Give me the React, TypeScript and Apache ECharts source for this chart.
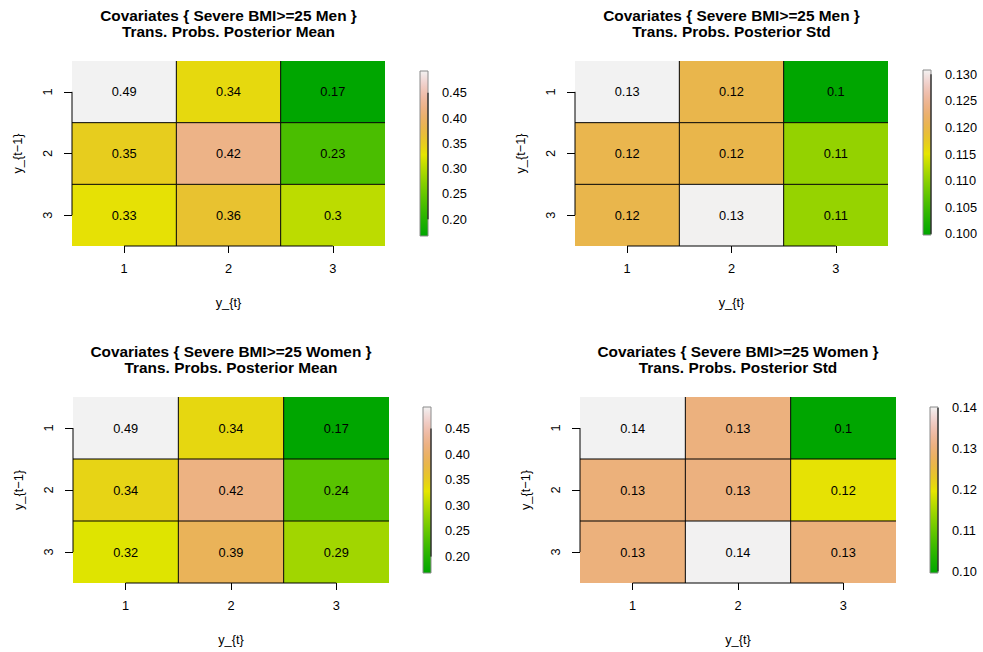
import React, { useEffect, useRef } from "react";
import * as echarts from "echarts";

// Transition matrix categories (columns: y_{t}, rows: y_{t-1})
const xCategories = ["1", "2", "3"];
const yCategories = ["1", "2", "3"];

// Posterior means / stds of transition probabilities, rows = y_{t-1}
const menMean = [
  [0.493, 0.338, 0.167],
  [0.349, 0.422, 0.229],
  [0.331, 0.362, 0.304],
];
const menStd = [
  [0.1308, 0.1202, 0.0998],
  [0.1203, 0.1201, 0.1105],
  [0.1202, 0.1307, 0.1106],
];
const womenMean = [
  [0.492, 0.339, 0.168],
  [0.342, 0.418, 0.241],
  [0.324, 0.39, 0.288],
];
const womenStd = [
  [0.1402, 0.1305, 0.0996],
  [0.1303, 0.1306, 0.1199],
  [0.1304, 0.1401, 0.1302],
];

// Colour-bar tick labels
const meanTicks = [0.2, 0.25, 0.3, 0.35, 0.4, 0.45];
const menStdTicks = [0.1, 0.105, 0.11, 0.115, 0.12, 0.125, 0.13];
const womenStdTicks = [0.1, 0.11, 0.12, 0.13, 0.14];

const titleMen = "Covariates { Severe BMI>=25 Men }";
const titleWomen = "Covariates { Severe BMI>=25 Women }";
const subMean = "Trans. Probs. Posterior Mean";
const subStd = "Trans. Probs. Posterior Std";

const FONT = '"Liberation Sans", Arial, Helvetica, sans-serif';
const BASE = 12.8;
const TITLE_SIZE = 15.4;

// R-like terrain palette (HSV ramp green -> yellow -> tan -> near white)
function hsvToHex(h: number, s: number, v: number): string {
  const i = Math.floor(h * 6);
  const f = h * 6 - i;
  const p = v * (1 - s);
  const q = v * (1 - f * s);
  const t = v * (1 - (1 - f) * s);
  let r = 0, g = 0, b = 0;
  switch (((i % 6) + 6) % 6) {
    case 0: r = v; g = t; b = p; break;
    case 1: r = q; g = v; b = p; break;
    case 2: r = p; g = v; b = t; break;
    case 3: r = p; g = q; b = v; break;
    case 4: r = t; g = p; b = v; break;
    default: r = v; g = p; b = q; break;
  }
  const hx = (x: number) => Math.round(x * 255).toString(16).padStart(2, "0");
  return "#" + hx(r) + hx(g) + hx(b);
}
function seq(a: number, b: number, len: number): number[] {
  return Array.from({ length: len }, (_, i) => (len === 1 ? a : a + ((b - a) * i) / (len - 1)));
}
function terrainColors(n: number): string[] {
  const k = Math.floor(n / 2);
  const out: string[] = [];
  const h1 = seq(4 / 12, 2 / 12, k), s1 = seq(1, 1, k), v1 = seq(0.65, 0.9, k);
  for (let i = 0; i < k; i++) out.push(hsvToHex(h1[i], s1[i], v1[i]));
  const m = n - k + 1;
  const h2 = seq(2 / 12, 0, m), s2 = seq(1, 0, m), v2 = seq(0.9, 0.95, m);
  for (let i = 1; i < m; i++) out.push(hsvToHex(h2[i], s2[i], v2[i]));
  return out;
}
const TERRAIN = terrainColors(64);

type Panel = {
  title: string;
  sub: string;
  matrix: number[][];
  ticks: number[];
  decimals: number;
  plot: { left: number; top: number; width: number; height: number };
  bar: { left: number; top: number; width: number; height: number };
};

const panels: Panel[] = [
  {
    title: titleMen, sub: subMean, matrix: menMean, ticks: meanTicks, decimals: 2,
    plot: { left: 72, top: 61, width: 313, height: 185 },
    bar: { left: 420, top: 71, width: 8, height: 165 },
  },
  {
    title: titleMen, sub: subStd, matrix: menStd, ticks: menStdTicks, decimals: 3,
    plot: { left: 575, top: 61, width: 313, height: 185 },
    bar: { left: 923, top: 70, width: 8, height: 165 },
  },
  {
    title: titleWomen, sub: subMean, matrix: womenMean, ticks: meanTicks, decimals: 2,
    plot: { left: 73, top: 397, width: 316, height: 186 },
    bar: { left: 423, top: 407, width: 8, height: 166 },
  },
  {
    title: titleWomen, sub: subStd, matrix: womenStd, ticks: womenStdTicks, decimals: 2,
    plot: { left: 580, top: 397, width: 316, height: 186 },
    bar: { left: 930, top: 407, width: 8, height: 166 },
  },
];

function fmtCell(v: number): string {
  return String(Math.round(v * 100) / 100);
}

function buildOption() {
  const grid: any[] = [];
  const xAxis: any[] = [];
  const yAxis: any[] = [];
  const series: any[] = [];
  const visualMap: any[] = [];
  const graphic: any[] = [];

  panels.forEach((p) => {
    const flat = p.matrix.flat();
    const zlo = Math.min(...flat);
    const zhi = Math.max(...flat);
    const cellData: number[][] = [];
    p.matrix.forEach((row, r) => row.forEach((v, c) => cellData.push([c, r, v])));

    const gCell = grid.length;
    grid.push({ ...p.plot, containLabel: false });
    const gBar = grid.length;
    grid.push({ ...p.bar, containLabel: false });

    // heatmap grid axes
    xAxis.push({
      type: "category", gridIndex: gCell, data: xCategories, position: "bottom",
      axisLine: { show: false },
      axisTick: { show: true, alignWithLabel: true, length: 7, lineStyle: { color: "#000", width: 1 } },
      axisLabel: { margin: 16, fontSize: BASE, fontFamily: FONT, color: "#000" },
      splitLine: { show: false },
      name: "y_{t}", nameLocation: "middle", nameGap: 50,
      nameTextStyle: { fontSize: BASE, fontFamily: FONT, color: "#000" },
    });
    yAxis.push({
      type: "category", gridIndex: gCell, data: yCategories, inverse: true, position: "left",
      axisLine: { show: false },
      axisTick: { show: true, alignWithLabel: true, length: 8, lineStyle: { color: "#000", width: 1 } },
      axisLabel: { margin: 18, rotate: 90, fontSize: BASE, fontFamily: FONT, color: "#000" },
      splitLine: { show: false },
      name: "y_{t\u22121}", nameLocation: "middle", nameGap: 48,
      nameTextStyle: { fontSize: BASE, fontFamily: FONT, color: "#000" },
    });
    // colour bar axes
    xAxis.push({ type: "value", gridIndex: gBar, min: 0, max: 1, show: false });
    yAxis.push({
      type: "value", gridIndex: gBar, min: zlo, max: zhi, position: "right", scale: true,
      axisLine: { show: false },
      axisTick: { show: true, length: 6, customValues: p.ticks, lineStyle: { color: "#000", width: 1 } },
      axisLabel: {
        show: true, customValues: p.ticks, margin: 14, fontSize: BASE, fontFamily: FONT, color: "#000",
        formatter: (v: number) => v.toFixed(p.decimals),
      },
      splitLine: { show: false },
    });

    const cellSeries = series.length;
    series.push({
      type: "custom", xAxisIndex: gCell, yAxisIndex: gCell,
      data: cellData, encode: { x: 0, y: 1 },
      renderItem: (params: any, api: any) => {
        const c = api.value(0) as number;
        const r = api.value(1) as number;
        const v = api.value(2) as number;
        const ctr = api.coord([c, r]);
        const sz = api.size([1, 1]);
        const x0 = ctr[0] - sz[0] / 2;
        const y0 = ctr[1] - sz[1] / 2;
        const children: any[] = [
          { type: "rect", shape: { x: x0, y: y0, width: sz[0], height: sz[1] }, style: { fill: api.visual("color"), stroke: null } },
          {
            type: "text", z2: 20,
            style: {
              x: ctr[0], y: ctr[1], text: fmtCell(v), align: "center", verticalAlign: "middle",
              fill: "#000", fontSize: BASE, fontFamily: FONT,
            },
          },
        ];
        // interior cell borders
        if (c > 0) children.push({ type: "line", z2: 10, shape: { x1: x0, y1: y0, x2: x0, y2: y0 + sz[1] }, style: { stroke: "#000", lineWidth: 1 } });
        if (r > 0) children.push({ type: "line", z2: 10, shape: { x1: x0, y1: y0, x2: x0 + sz[0], y2: y0 }, style: { stroke: "#000", lineWidth: 1 } });
        // axis lines run from the first to the last tick
        const nRow = yCategories.length, nCol = xCategories.length;
        if (c === 0 && r < nRow - 1) children.push({ type: "line", z2: 12, shape: { x1: x0, y1: ctr[1], x2: x0, y2: ctr[1] + sz[1] }, style: { stroke: "#000", lineWidth: 1 } });
        if (r === nRow - 1 && c < nCol - 1) children.push({ type: "line", z2: 12, shape: { x1: ctr[0], y1: y0 + sz[1], x2: ctr[0] + sz[0], y2: y0 + sz[1] }, style: { stroke: "#000", lineWidth: 1 } });
        return { type: "group", children };
      },
    });

    visualMap.push({
      type: "continuous", show: false, min: zlo, max: zhi, dimension: 2,
      seriesIndex: cellSeries, inRange: { color: TERRAIN },
    });

    const stops = TERRAIN.map((col, i) => ({ offset: i / (TERRAIN.length - 1), color: col }));
    series.push({
      type: "custom", xAxisIndex: gBar, yAxisIndex: gBar,
      data: [[0, zlo]], encode: { x: 0, y: 1 },
      renderItem: (params: any, api: any) => {
        const a = api.coord([0, zlo]);
        const b = api.coord([1, zhi]);
        const t0 = api.coord([1, p.ticks[0]]);
        const t1 = api.coord([1, p.ticks[p.ticks.length - 1]]);
        return {
          type: "group",
          children: [
            {
              type: "rect",
              shape: { x: a[0], y: b[1], width: b[0] - a[0], height: a[1] - b[1] },
              style: { fill: new echarts.graphic.LinearGradient(0, 1, 0, 0, stops), stroke: "#8a8a8a", lineWidth: 1 },
            },
            { type: "line", z2: 5, shape: { x1: t0[0], y1: t0[1], x2: t1[0], y2: t1[1] }, style: { stroke: "#000", lineWidth: 1 } },
          ],
        };
      },
    });

    const cx = p.plot.left + p.plot.width / 2;
    graphic.push({
      type: "text", x: cx, y: p.plot.top - 54,
      style: {
        text: p.title + "\n" + p.sub, align: "center", verticalAlign: "top",
        fontSize: TITLE_SIZE, fontWeight: "bold", fontFamily: FONT, fill: "#000", lineHeight: 16,
      },
    });
  });

  return {
    animation: false,
    backgroundColor: "#ffffff",
    grid, xAxis, yAxis, series, visualMap, graphic,
  };
}

export default function App() {
  const ref = useRef<HTMLDivElement>(null);
  useEffect(() => {
    if (!ref.current) return;
    const chart = echarts.init(ref.current, undefined, { renderer: "svg" });
    chart.setOption(buildOption() as any);
    return () => chart.dispose();
  }, []);
  return (
    <div
      ref={ref}
      style={{ position: "fixed", left: 0, top: 0, width: 983, height: 652, background: "#fff" }}
    />
  );
}
